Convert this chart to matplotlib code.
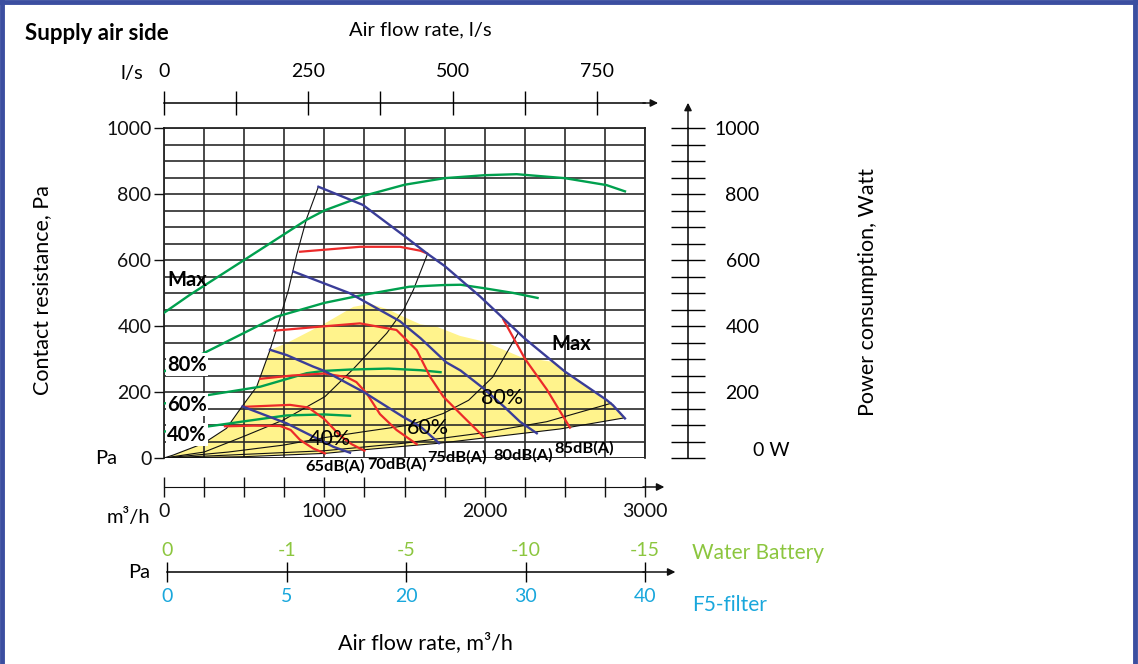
import matplotlib.pyplot as plt
from matplotlib.ticker import MultipleLocator
from matplotlib.lines import Line2D

W, H = 1138, 664
plt.rcParams['font.family'] = ['Lato', 'DejaVu Sans']

# ── data (x: m3/h, y: Pa or W) ────────────────────────────────────────────────
# power curves (green)
G1_Q = [0, 160, 500, 890, 1000, 1250, 1500, 1750, 2000, 2200, 2500, 2760, 2875]
G1_P = [440, 494, 600, 722, 750, 795, 828, 848, 857, 860, 848, 827, 808]
G2_Q = [0, 245, 700, 1000, 1240, 1530, 1740, 1850, 1990, 2180, 2330]
G2_P = [262, 317, 428, 470, 494, 519, 524, 525, 515, 500, 485]
G3_Q = [0, 266, 600, 890, 1000, 1160, 1400, 1600, 1725]
G3_P = [165, 190, 216, 257, 264, 268, 271, 266, 260]
G4_Q = [0, 266, 600, 765, 1000, 1160]
G4_P = [80, 95, 118, 129, 132, 128]

# fan curves (blue)
B1_Q = [963, 1240, 1490, 1640, 1750, 1970, 2250, 2500, 2760, 2800, 2875]
B1_P = [822, 767, 676, 620, 582, 490, 362, 262, 176, 160, 120]
B2_Q = [807, 1160, 1470, 1600, 1760, 1850, 1990, 2120, 2220, 2325]
B2_P = [565, 499, 415, 363, 290, 265, 212, 156, 110, 75]
B3_Q = [661, 765, 930, 1000, 1245, 1490, 1600, 1715]
B3_P = [328, 312, 277, 264, 200, 125, 95, 45]
B4_Q = [490, 765, 930, 1056, 1160]
B4_P = [156, 105, 65, 34, 16]

# sound level lines (red)
R1_Q = [380, 560, 724, 790, 848, 930, 1004]
R1_P = [96, 98, 97, 85, 55, 29, 14]
R2_Q = [495, 786, 900, 1000, 1098, 1170, 1250]
R2_P = [155, 161, 153, 118, 68, 42, 22]
R3_Q = [600, 800, 1000, 1140, 1200, 1264, 1347, 1450, 1576]
R3_P = [240, 250, 256, 245, 230, 196, 133, 85, 42]
R4_Q = [690, 973, 1222, 1450, 1576, 1660, 1742, 1867, 1992]
R4_P = [386, 398, 408, 388, 327, 246, 186, 125, 65]
R5_Q = [848, 1222, 1472, 1600, 1640]
R5_P = [625, 640, 640, 628, 620]
R6_Q = [2116, 2252, 2387, 2532]
R6_P = [420, 300, 208, 92]

# system lines (black)
K1_Q = [0, 58, 245, 390, 485, 578, 661, 713, 776, 827, 890, 963]
K1_P = [0, 9, 44, 90, 155, 216, 327, 408, 509, 615, 726, 822]
K2_Q = [0, 250, 495, 744, 1004, 1181, 1389, 1493, 1555, 1645]
K2_P = [0, 18, 65, 115, 186, 270, 378, 448, 509, 620]
K3_Q = [0, 400, 744, 1004, 1250, 1534, 1742, 1900, 2050, 2208]
K3_P = [0, 18, 39, 62, 80, 100, 135, 175, 245, 378]
K4_Q = [0, 1000, 1500, 1971, 2387, 2790]
K4_P = [0, 22, 45, 75, 110, 166]
K5_Q = [0, 500, 1004, 1222, 1721, 2052, 2470, 2864]
K5_P = [0, 4, 14, 24, 45, 64, 88, 121]

# upper edge of the yellow working area
YEL_TOP_Q = [765, 1004, 1181, 1285, 1400, 1493, 1600, 1701, 1846, 2002, 2220, 2440]
YEL_TOP_P = [348, 408, 458, 467, 450, 428, 405, 398, 370, 352, 307, 290]

# axes ticks
LS_TICKS = [0, 125, 250, 375, 500, 625, 750]
LS_LABELS = ['0', '', '250', '', '500', '', '750']
M3H_TICKS = list(range(0, 3001, 250))
M3H_LABELS = [str(t) if t % 1000 == 0 else '' for t in M3H_TICKS]
PA_TICKS = [0, 200, 400, 600, 800, 1000]
W_TICKS = list(range(0, 1001, 50))
W_LABELS = [str(t) if t % 200 == 0 and t > 0 else '' for t in W_TICKS]

FILTER_POS = [20, 765, 1510, 2255, 3000]
WATER_LABELS = ['0', '-1', '-5', '-10', '-15']
F5_LABELS = ['0', '5', '20', '30', '40']

GREEN = '#00a04e'
BLUE = '#3a3d98'
RED = '#ec2a2a'
BLACK = '#111111'
YELLOW = '#fff38c'
LGREEN = '#8cc63f'
CYAN = '#19a7dc'

FS = 14.5      # general text
FT = 14        # tick numbers
FB = 14.5      # bold labels in plot


def box(x0, y0, x1, y1):
    return [x0 / W, 1 - y1 / H, (x1 - x0) / W, (y1 - y0) / H]


fig = plt.figure(figsize=(W / 100, H / 100), dpi=100)

# frame
for xs, ys in [([2, 2], [0, H - 2]), ([0, W], [H - 2, H - 2]), ([W - 3, W - 3], [0, H - 2])]:
    fig.add_artist(Line2D([x / W for x in xs], [y / H for y in ys],
                          color='#3b4ea0', lw=3.5))

ax = fig.add_axes(box(164, 128, 645, 458))
ax.set_xlim(0, 3000)
ax.set_ylim(0, 1000)

# yellow area
yq = K1_Q[:7] + YEL_TOP_Q + [q for q in B1_Q if q >= 2500] + K5_Q[::-1]
yp = K1_P[:7] + YEL_TOP_P + [p for q, p in zip(B1_Q, B1_P) if q >= 2500] + K5_P[::-1]
ax.fill(yq, yp, color=YELLOW, lw=0, zorder=0)

# grid
ax.set_xticks(M3H_TICKS, M3H_LABELS)
ax.set_yticks(PA_TICKS)
ax.yaxis.set_minor_locator(MultipleLocator(50))
ax.grid(True, which='major', axis='x', color='#2a2a2a', lw=1.2, zorder=1)
ax.grid(True, which='both', axis='y', color='#2a2a2a', lw=1.2, zorder=1)
ax.set_axisbelow(False)
for sp in ['top', 'right', 'left']:
    ax.spines[sp].set_color(BLACK)
    ax.spines[sp].set_linewidth(1.2)
ax.axhline(0, color=BLACK, lw=1.2, zorder=1)

# curves
for q, p in [(K1_Q, K1_P), (K2_Q, K2_P), (K3_Q, K3_P), (K4_Q, K4_P), (K5_Q, K5_P)]:
    ax.plot(q, p, color=BLACK, lw=0.8, zorder=3)
for q, p in [(G1_Q, G1_P), (G2_Q, G2_P), (G3_Q, G3_P), (G4_Q, G4_P)]:
    ax.plot(q, p, color=GREEN, lw=1.7, zorder=4)
for q, p in [(R1_Q, R1_P), (R2_Q, R2_P), (R3_Q, R3_P), (R4_Q, R4_P),
             (R5_Q, R5_P), (R6_Q, R6_P)]:
    ax.plot(q, p, color=RED, lw=1.6, zorder=4)
for q, p in [(B1_Q, B1_P), (B2_Q, B2_P), (B3_Q, B3_P), (B4_Q, B4_P)]:
    ax.plot(q, p, color=BLUE, lw=1.7, zorder=5)

# labels in the plot
wbox = dict(facecolor='white', edgecolor='none', pad=0.8)
ax.text(19, 539, 'Max', fontsize=FB, fontweight='bold', va='center', zorder=6)
ax.text(19, 283, '80%', fontsize=FB, fontweight='bold', va='center', zorder=6, bbox=wbox)
ax.text(19, 162, '60%', fontsize=FB, fontweight='bold', va='center', zorder=6, bbox=wbox)
ax.text(19, 71, '40%', fontsize=FB, fontweight='bold', va='center', zorder=6, bbox=wbox)
ax.text(2542, 344, 'Max', fontsize=FB, fontweight='bold', ha='center', va='center', zorder=6)
for q, p, s in [(1035, 59, '40%'), (1647, 91, '60%'), (2108, 183, '80%')]:
    ax.text(q, p, s, fontsize=15.5, ha='center', va='center', zorder=6)
for q, p, s in [(1066, -26, '65dB(A)'), (1456, -18, '70dB(A)'), (1827, 1, '75dB(A)'),
                (2239, 9, '80dB(A)'), (2620, 29, '85dB(A)')]:
    ax.text(q, p, s, fontsize=11.8, fontweight='bold', ha='center', va='center',
            zorder=6, clip_on=False)

# bottom m3/h axis
ax.spines['bottom'].set_position(('outward', 29 * 0.72))
ax.spines['bottom'].set_color(BLACK)
ax.tick_params(axis='x', direction='inout', length=14.4, width=1, pad=4,
               labelsize=FT, colors=BLACK)
ax.tick_params(axis='y', which='major', direction='out', length=7, width=1,
               pad=2, labelsize=FT, colors=BLACK)
ax.tick_params(axis='y', which='minor', length=0)
arrow = dict(arrowstyle='-|>', color=BLACK, lw=1.1, mutation_scale=11)
ax.annotate('', xy=(1.046, -29 / 330), xytext=(0.99, -29 / 330),
            xycoords='axes fraction', arrowprops=arrow, annotation_clip=False)

# top l/s axis
top = ax.secondary_xaxis(355 / 330, functions=(lambda q: q / 3.6, lambda l: l * 3.6))
top.set_xticks(LS_TICKS, LS_LABELS)
top.tick_params(direction='inout', length=17, width=1, pad=8, labelsize=FT)
top.spines['top'].set_linewidth(1.1)
ax.annotate('', xy=(1.033, 355 / 330), xytext=(0.99, 355 / 330),
            xycoords='axes fraction', arrowprops=arrow, annotation_clip=False)

# right power axis
right = ax.secondary_yaxis(524 / 481)
right.set_yticks(W_TICKS, W_LABELS, ha='right')
right.tick_params(direction='inout', length=25, width=1, pad=39, labelsize=FT)
right.spines['right'].set_linewidth(1.1)
ax.annotate('', xy=(524 / 481, 358 / 330), xytext=(524 / 481, 0.99),
            xycoords='axes fraction', arrowprops=arrow, annotation_clip=False)

# filter / water battery axis
axf = fig.add_axes(box(164, 551, 645, 572))
axf.set_xlim(0, 3000)
axf.set_ylim(0, 1)
axf.patch.set_visible(False)
for sp in ['top', 'left', 'right']:
    axf.spines[sp].set_visible(False)
axf.spines['bottom'].set_bounds(FILTER_POS[0], FILTER_POS[-1])
axf.spines['bottom'].set_linewidth(1.1)
axf.set_yticks([])
axf.set_xticks(FILTER_POS, F5_LABELS)
axf.tick_params(axis='x', direction='inout', length=13.7, width=1, pad=5,
                labelsize=FT, labelcolor=CYAN)
for q, s in zip(FILTER_POS, WATER_LABELS):
    axf.text(q, 1.0, s, color=LGREEN, fontsize=FT, ha='center', va='center',
             transform=axf.get_xaxis_transform())
axf.annotate('', xy=(1.069, 0), xytext=(0.99, 0), xycoords='axes fraction',
             arrowprops=arrow, annotation_clip=False)

# free texts
fig.text(25 / W, 1 - 33 / H, 'Supply air side', fontsize=16, fontweight='bold', va='center')
fig.text(420 / W, 1 - 30 / H, 'Air flow rate, l/s', fontsize=FS, ha='center', va='center')
fig.text(143 / W, 1 - 73 / H, 'l/s', fontsize=FS, ha='right', va='center')
fig.text(117 / W, 1 - 458 / H, 'Pa', fontsize=FS, ha='right', va='center')
fig.text(150 / W, 1 - 517 / H, 'm³/h', fontsize=FS, ha='right', va='center')
fig.text(150 / W, 1 - 572 / H, 'Pa', fontsize=FS, ha='right', va='center')
fig.text(753 / W, 1 - 450 / H, '0 W', fontsize=FT, va='center')
fig.text(42 / W, 1 - 290 / H, 'Contact resistance, Pa', fontsize=15.5, rotation=90,
         ha='center', va='center')
fig.text(868 / W, 1 - 292 / H, 'Power consumption, Watt', fontsize=15.5, rotation=90,
         ha='center', va='center')
fig.text(692 / W, 1 - 553 / H, 'Water Battery', fontsize=15, color=LGREEN, va='center')
fig.text(692 / W, 1 - 605 / H, 'F5-filter', fontsize=15, color=CYAN, va='center')
fig.text(425 / W, 1 - 643 / H, 'Air flow rate, m³/h', fontsize=15.5, ha='center', va='center')

fig.savefig('out.png', dpi=100)
